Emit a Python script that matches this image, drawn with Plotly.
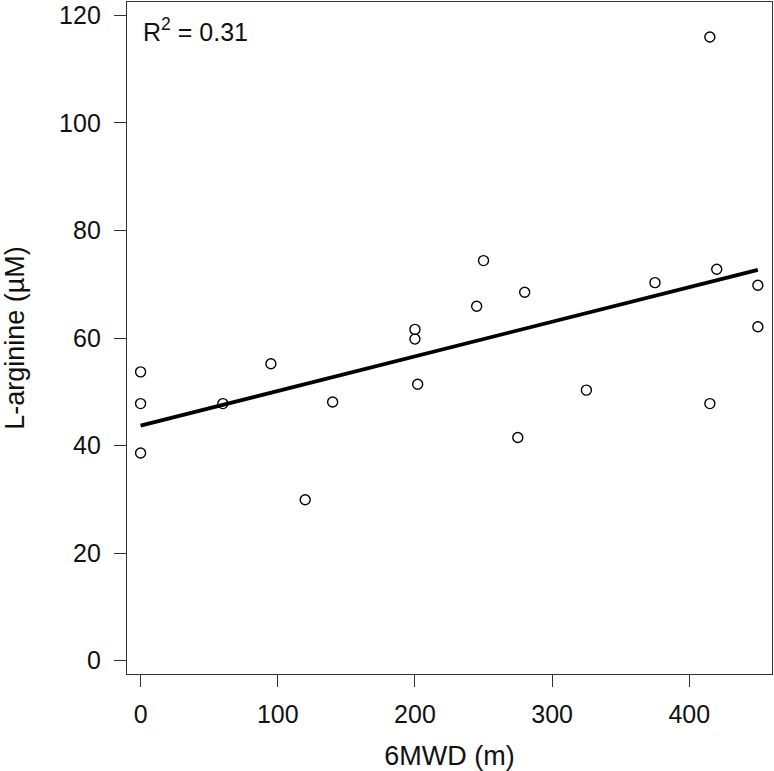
import plotly.graph_objects as go

# Data
walk_m = [0, 0, 0, 60, 95, 120, 140, 200, 200, 202, 245, 250, 275, 280, 325, 375, 415, 415, 420, 450, 450]
arginine = [53.7, 47.8, 38.6, 47.8, 55.2, 29.9, 48.1, 61.6, 59.8, 51.4, 65.9, 74.4, 41.5, 68.5, 50.3, 70.3, 116.0, 47.8, 72.8, 69.8, 62.1]

# Fitted line
fit_intercept = 43.7
fit_slope = 0.0644
fit_x = [0, 450]
fit_y = [fit_intercept + fit_slope * v for v in fit_x]

x_ticks = [0, 100, 200, 300, 400]
y_ticks = [0, 20, 40, 60, 80, 100, 120]
r2_label = "R<sup>2</sup> = 0.31"

FONT = "Liberation Sans, Arial, sans-serif"
AX = "#333333"

fig = go.Figure()
fig.add_trace(go.Scatter(
    x=walk_m, y=arginine, mode="markers",
    marker=dict(symbol="circle-open", size=10, color="black", line=dict(width=1.4, color="black")),
    showlegend=False, hoverinfo="x+y",
))
fig.add_trace(go.Scatter(
    x=fit_x, y=fit_y, mode="lines",
    line=dict(color="black", width=3.8),
    showlegend=False, hoverinfo="skip",
))

axis_common = dict(
    showgrid=False, zeroline=False,
    showline=True, linecolor=AX, linewidth=1.4, mirror=True,
    ticks="outside", ticklen=12, tickwidth=1.3, tickcolor=AX,
    tickfont=dict(family=FONT, size=25, color="#111111"),
)

fig.update_layout(
    width=774, height=771,
    margin=dict(l=127, r=2, t=2, b=97),
    paper_bgcolor="white", plot_bgcolor="white",
    font=dict(family=FONT, color="#111111"),
    xaxis=dict(
        range=[-9.9, 460.3], tickmode="array", tickvals=x_ticks,
        ticktext=[str(v) for v in x_ticks],
        title=dict(text="6MWD (m)", font=dict(family=FONT, size=27, color="#111111"), standoff=20),
        ticklabelstandoff=6,
        **axis_common,
    ),
    yaxis=dict(
        range=[-2.5, 122.5], tickmode="array", tickvals=y_ticks,
        ticktext=[str(v) for v in y_ticks],
        title=dict(text="L-arginine (µM)", font=dict(family=FONT, size=27, color="#111111"), standoff=30),
        ticklabelstandoff=8,
        **axis_common,
    ),
    annotations=[dict(
        text=r2_label, xref="paper", yref="paper", x=0.022, y=0.985,
        xanchor="left", yanchor="top", showarrow=False,
        font=dict(family=FONT, size=25, color="#111111"),
    )],
)

fig.write_html(
    "out.html",
    config={"displayModeBar": False},
    post_script="document.body.style.margin='0';document.body.style.padding='0';",
)
